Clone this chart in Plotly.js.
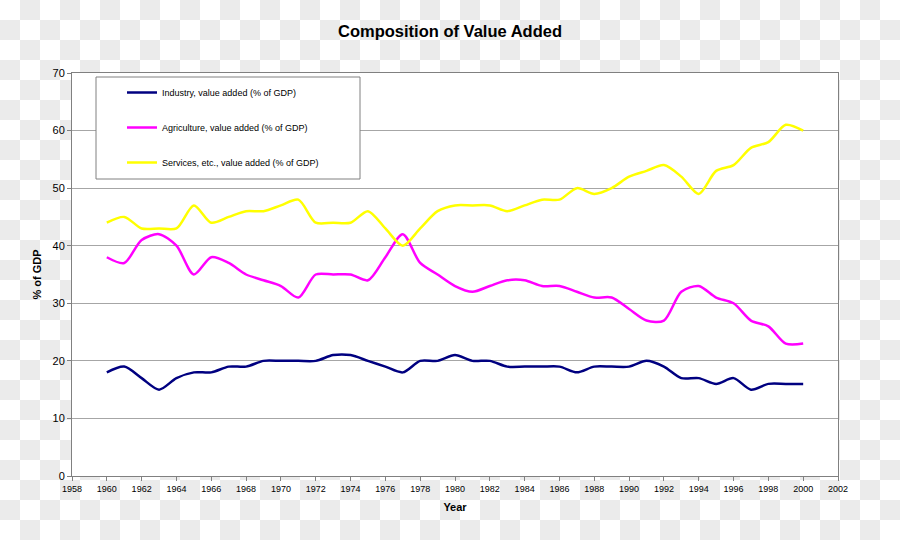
<!DOCTYPE html>
<html>
<head>
<meta charset="utf-8">
<script src="https://cdn.plot.ly/plotly-3.0.1.min.js"></script>
<style>
html,body{margin:0;padding:0;}
body{width:900px;height:540px;background:repeating-conic-gradient(#ebebeb 0 25%, #ffffff 0 50%) 0 0/40px 40px;}
#chart{width:900px;height:540px;}
</style>
</head>
<body>
<div id="chart"></div>
<script>
const years = [1960,1961,1962,1963,1964,1965,1966,1967,1968,1969,1970,1971,1972,1973,1974,1975,1976,1977,1978,1979,1980,1981,1982,1983,1984,1985,1986,1987,1988,1989,1990,1991,1992,1993,1994,1995,1996,1997,1998,1999,2000];
const industry = [18,19,17,15,17,18,18,19,19,20,20,20,20,21,21,20,19,18,20,20,21,20,20,19,19,19,19,18,19,19,19,20,19,17,17,16,17,15,16,16,16];
const agriculture = [38,37,41,42,40,35,38,37,35,34,33,31,35,35,35,34,38,42,37,35,33,32,33,34,34,33,33,32,31,31,29,27,27,32,33,31,30,27,26,23,23];
const services = [44,45,43,43,43,47,44,45,46,46,47,48,44,44,44,46,43,40,43,46,47,47,47,46,47,48,48,50,49,50,52,53,54,52,49,53,54,57,58,61,60];
const seriesNames = ["Industry, value added (% of GDP)","Agriculture, value added (% of GDP)","Services, etc., value added (% of GDP)"];
const xTicks = [1958,1960,1962,1964,1966,1968,1970,1972,1974,1976,1978,1980,1982,1984,1986,1988,1990,1992,1994,1996,1998,2000,2002];
const yTicks = [0,10,20,30,40,50,60,70];

const colors = ["#000080","#ff00ff","#ffff00"];
const vals = [industry, agriculture, services];
const traces = vals.map((v,i)=>({
  x: years, y: v, type: "scatter", mode: "lines", name: seriesNames[i],
  legendgroup: "g"+i,
  line: {color: colors[i], width: 2.5, shape: "spline", smoothing: 0.8}
}));

const layout = {
  width: 900, height: 540,
  margin: {l:72, r:62, t:73, b:64},
  paper_bgcolor: "rgba(0,0,0,0)",
  plot_bgcolor: "#ffffff",
  font: {family: "Liberation Sans, Arial, sans-serif", color: "#000"},
  title: {text: "<b>Composition of Value Added</b>", font: {size: 16.5, family: "Liberation Sans, Arial, sans-serif", color:"#000"}, x: 0.5, xanchor: "center", y: 0.943, yanchor: "middle"},
  xaxis: {
    range: [1958, 2002], tickvals: xTicks, ticktext: xTicks.map(String),
    showgrid: false, zeroline: false, ticks: "outside", ticklen: 4, tickcolor: "#808080",
    tickfont: {size: 9, family: "Liberation Sans Narrow, Liberation Sans, Arial, sans-serif"},
    showline: true, linecolor: "#808080", linewidth: 1, mirror: true,
    title: {text: "<b>Year</b>", font: {size: 11}, standoff: 10}
  },
  yaxis: {
    range: [0, 70], tickvals: yTicks, ticktext: yTicks.map(String),
    showgrid: true, gridcolor: "#a6a6a6", gridwidth: 1, zeroline: false,
    ticks: "outside", ticklen: 4, tickcolor: "#808080",
    tickfont: {size: 11},
    showline: true, linecolor: "#808080", linewidth: 1, mirror: true,
    title: {text: "<b>% of GDP</b>", font: {size: 11}, standoff: 8}
  },
  shapes: [{
    type: "rect", xref: "paper", yref: "paper",
    x0: (96-72)/766, x1: (360-72)/766, y0: (476-179)/403, y1: (476-77)/403,
    line: {color: "#808080", width: 1}, fillcolor: "#ffffff", layer: "above"
  }],
  legend: {
    x: (122-72)/766, y: (476-78)/403, xanchor: "left", yanchor: "top",
    bgcolor: "rgba(0,0,0,0)", borderwidth: 0,
    font: {size: 9}, tracegroupgap: 16, traceorder: "grouped",
    itemwidth: 30
  },
  showlegend: true
};

Plotly.newPlot("chart", traces, layout, {displayModeBar: false, staticPlot: true});
</script>
</body>
</html>
